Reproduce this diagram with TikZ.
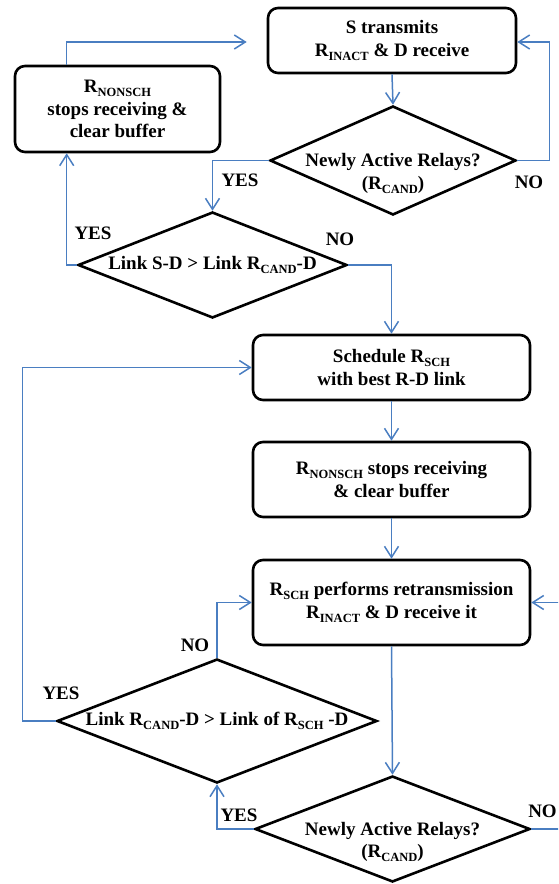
\documentclass[tikz,border=0pt]{standalone}
\usepackage{fontspec}
\setmainfont{Liberation Serif}
\usetikzlibrary{arrows.meta,shapes.geometric}
\definecolor{conn}{RGB}{74,126,193}
\newcommand\lowsub[1]{\raisebox{-4pt}{\fontsize{12.5}{12.5}\selectfont #1}}
\begin{document}
\begin{tikzpicture}[x=1pt,y=-1pt,
  every node/.style={font=\fontsize{19}{22.5}\selectfont\bfseries},
  box/.style={draw, line width=2.6pt, rounded corners=10pt, align=center, inner sep=0pt},
  dia/.style={draw, diamond, line width=2.6pt, inner sep=0pt},
  lbl/.style={align=center, inner sep=0pt},
  yn/.style={inner sep=0pt},
  arr/.style={draw=conn, line width=1.5pt, -{Straight Barb[length=11pt,width=14pt,line width=1.5pt]}}]
\useasboundingbox (0,0) rectangle (558,884);
\clip (0,0) rectangle (558,884);

% boxes
\node[box, minimum width=248pt, minimum height=65pt] (top) at (392,40.5)
  {\raisebox{-2pt}{\begin{tabular}{@{}c@{}}S transmits\\R\lowsub{INACT} \& D receive\end{tabular}}};
\node[box, minimum width=205pt, minimum height=86pt] (lb) at (117.5,109)
  {R\lowsub{NONSCH}\\stops receiving \&\\clear buffer};
\node[box, minimum width=277pt, minimum height=65pt] (sched) at (391.5,367.5)
  {Schedule R\lowsub{SCH}\\with best R-D link};
\node[box, minimum width=277pt, minimum height=75pt] (nb) at (391.5,479.5)
  {R\lowsub{NONSCH} stops receiving\\\& clear buffer};
\node[box, minimum width=277pt, minimum height=85pt] (rt) at (391.5,602.5)
  {R\lowsub{SCH} performs retransmission\\R\lowsub{INACT} \& D receive it};

% diamonds
\node[dia, minimum width=246pt, minimum height=109pt,
  label={[lbl, yshift=-13pt]center:{Newly Active Relays?\\(R\lowsub{CAND})}}] (d1) at (393,160.5) {};
\node[dia, minimum width=269pt, minimum height=106pt,
  label={[lbl]center:{Link S-D > Link R\lowsub{CAND}-D}}] (d2) at (212.5,265) {};
\node[dia, minimum width=320pt, minimum height=124pt,
  label={[lbl]center:{Link R\lowsub{CAND}-D > Link of R\lowsub{SCH} -D}}] (d3) at (217,721) {};
\node[dia, minimum width=275pt, minimum height=106pt,
  label={[lbl, yshift=-13pt]center:{Newly Active Relays?\\(R\lowsub{CAND})}}] (d4) at (392.5,829) {};

% connectors
\draw[arr] (top.south) -- (d1.north);
\draw[arr] (d1.east) -- ++(32,0) |- ([yshift=-1.5pt]top.east);
\draw[arr] (d1.west) -| (d2.north);
\draw[arr] (d2.west) -| ([xshift=53pt]lb.south west);
\draw[arr, shorten >=20pt] ([xshift=53pt]lb.north west) |- ([yshift=-1.5pt]top.west);
\draw[arr] (d2.east) -| (sched.north);
\draw[arr] (sched.south) -- (nb.north);
\draw[arr] (nb.south) -- (rt.north);
\draw[arr] (rt.south) -- (d4.north);
\draw[arr] (d3.west) -- ++(-33,0) |- (sched.west);
\draw[arr] (d3.north) |- (rt.west);
\draw[arr] (d4.west) -| (d3.south);
\draw[arr] (d4.east) -- ++(45,0) |- (rt.east);

% labels
\node[yn] (n1) at (529,182) {NO};
\node[yn] (y1) at (240,180) {YES};
\node[yn] (y2) at (93,233) {YES};
\node[yn] (n2) at (340,239) {NO};
\node[yn] (y3) at (61,693) {YES};
\node[yn] (n3) at (195,645) {NO};
\node[yn] (y4) at (239,815) {YES};
\node[yn] (n4) at (542.5,811.5) {NO};
\end{tikzpicture}
\end{document}
